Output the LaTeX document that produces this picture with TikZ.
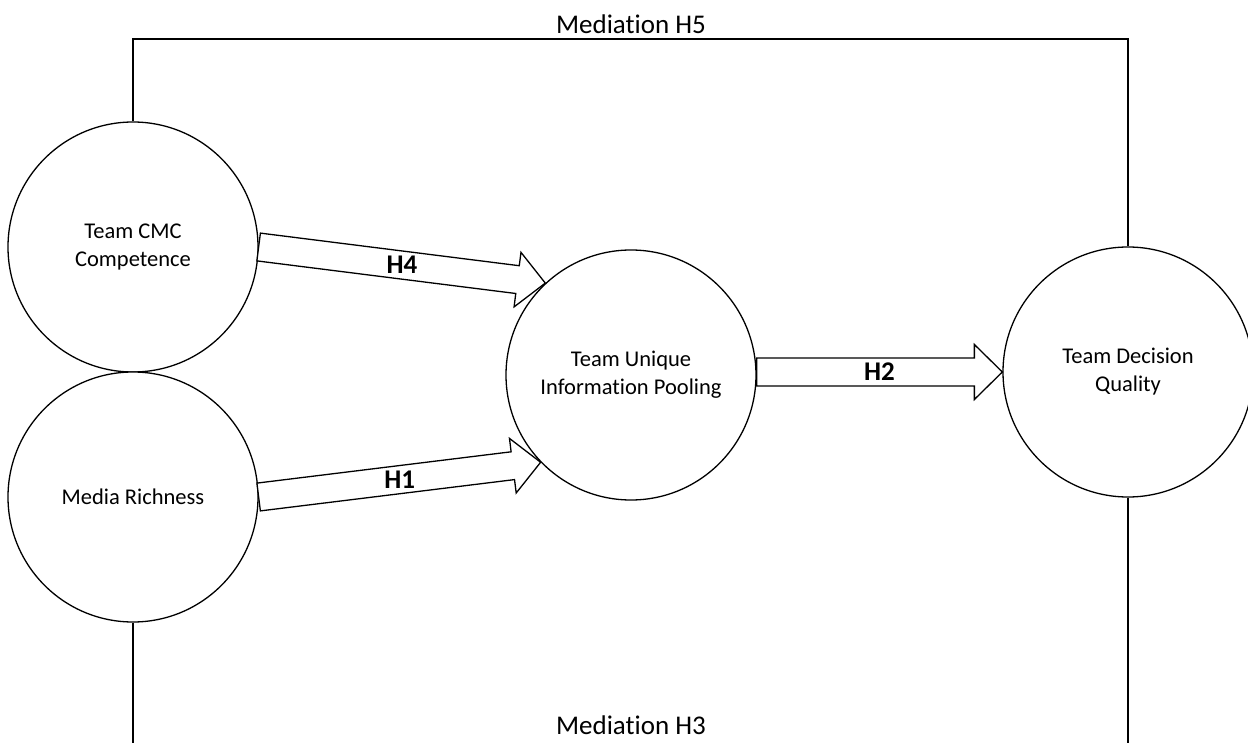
\documentclass[tikz,border=0pt]{standalone}
\usepackage{fontspec}
\setmainfont{Carlito}[Ligatures=NoCommon]
\usetikzlibrary{calc}
\tikzset{
  construct/.style={circle, draw, fill=white, line width=1.3pt, minimum size=250pt, inner sep=0pt, align=center, font=\fontsize{22.5}{28}\selectfont},
  blockarrow/.style={draw, fill=white, line width=1.3pt, line join=miter},
  hlabel/.style={font=\fontsize{27}{30}\selectfont\bfseries, inner sep=0pt},
  medlabel/.style={font=\fontsize{27}{30}\selectfont, anchor=base},
  medline/.style={line width=1.3pt},
}
\newcommand\blockarr[4]{%
  \coordinate (#4h) at ($(#2)!28pt!(#1)$);
  \draw[blockarrow] ($(#1)!14pt!90:(#2)$) -- ($(#4h)!14pt!90:(#2)$) -- ($(#4h)!27.5pt!90:(#2)$) -- (#2)
    -- ($(#4h)!27.5pt!-90:(#2)$) -- ($(#4h)!14pt!-90:(#2)$) -- ($(#1)!14pt!-90:(#2)$) -- cycle;
  \path (#1) -- node[hlabel] (#4l) {#3} (#2);
}
\begin{document}
\begin{tikzpicture}[x=1pt, y=-1pt]
\useasboundingbox (0,0) rectangle (1248,743);
\fill[white] (0,0) rectangle (1248,743);

\node[construct] (cmc) at (133,247) {Team CMC\\Competence};
\node[construct] (mr) at (133,497) {Media Richness};
\node[construct] (tuip) at (631,375) {Team Unique\\Information Pooling};
\node[construct] (tdq) at (1128,372) {Team Decision\\Quality};

% mediation lines
\coordinate (topy) at (631,39);
\coordinate (boty) at (631,743);
\draw[medline] (cmc.north) -- (cmc.north |- topy) -- (tdq.north |- topy) -- (tdq.north);
\node[medlabel] (h5) at (631,34) {Mediation H5};
\coordinate (mrb) at (mr.south |- boty);
\coordinate (tdqb) at (tdq.south |- boty);
\draw[medline] (mr.south) -- (mrb);
\draw[medline] (tdq.south) -- (tdqb);
\node[medlabel] (h3) at (631,734) {Mediation H3};

% block arrows
\coordinate (a4s) at (cmc.east);
\coordinate (a4t) at (tuip.133.7);
\blockarr{a4s}{a4t}{H4}{a4}
\coordinate (a1s) at (mr.east);
\coordinate (a1t) at (tuip.224);
\blockarr{a1s}{a1t}{H1}{a1}
\coordinate (a2s) at (tuip.east |- tdq.west);
\coordinate (a2t) at (tdq.west);
\blockarr{a2s}{a2t}{H2}{a2}
\end{tikzpicture}
\end{document}
